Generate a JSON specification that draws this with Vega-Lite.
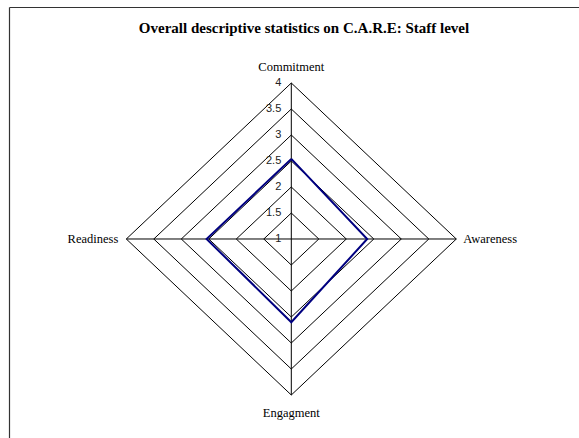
{
  "$schema": "https://vega.github.io/schema/vega-lite/v6.json",
  "autosize": {"type": "none"},
  "padding": {"left": 9, "top": 7, "right": 0, "bottom": 0},
  "width": 570,
  "height": 431,
  "background": "white",
  "config": {"view": {"stroke": null}},
  "title": {
    "text": "Overall descriptive statistics on C.A.R.E: Staff level",
    "font": "Liberation Serif",
    "fontSize": 15,
    "fontWeight": "bold",
    "color": "black",
    "anchor": "middle",
    "frame": "group",
    "baseline": "middle",
    "offset": -36,
    "dx": 10
  },
  "datasets": {
    "scores": [
      {"axis": "Commitment", "i": 0, "value": 2.54},
      {"axis": "Awareness", "i": 1, "value": 2.38},
      {"axis": "Engagment", "i": 2, "value": 2.6},
      {"axis": "Readiness", "i": 3, "value": 2.54},
      {"axis": "Commitment", "i": 4, "value": 2.54}
    ],
    "rings": [
      {"level": 1.5, "i": [0, 1, 2, 3, 4]},
      {"level": 2, "i": [0, 1, 2, 3, 4]},
      {"level": 2.5, "i": [0, 1, 2, 3, 4]},
      {"level": 3, "i": [0, 1, 2, 3, 4]},
      {"level": 3.5, "i": [0, 1, 2, 3, 4]},
      {"level": 4, "i": [0, 1, 2, 3, 4]}
    ],
    "axes": [
      {"axis": "Commitment", "i": 0},
      {"axis": "Awareness", "i": 1},
      {"axis": "Engagment", "i": 2},
      {"axis": "Readiness", "i": 3}
    ],
    "ticks": [
      {"label": "1", "value": 1},
      {"label": "1.5", "value": 1.5},
      {"label": "2", "value": 2},
      {"label": "2.5", "value": 2.5},
      {"label": "3", "value": 3},
      {"label": "3.5", "value": 3.5},
      {"label": "4", "value": 4}
    ]
  },
  "encoding": {
    "x": {
      "field": "x",
      "type": "quantitative",
      "scale": {"domain": [-5.1327, 5.2309], "nice": false, "zero": false},
      "axis": {"orient": "top", "domain": true, "domainColor": "#333", "domainWidth": 1.2, "ticks": false, "labels": false, "grid": false, "title": null}
    },
    "y": {
      "field": "y",
      "type": "quantitative",
      "scale": {"domain": [-3.8269, 4.4615], "nice": false, "zero": false},
      "axis": {"orient": "left", "domain": true, "domainColor": "#333", "domainWidth": 1.2, "ticks": false, "labels": false, "grid": false, "title": null}
    }
  },
  "layer": [
    {
      "data": {"name": "rings"},
      "transform": [
        {"flatten": ["i"]},
        {"calculate": "sin(datum.i * PI / 2) * (datum.level - 1)", "as": "x"},
        {"calculate": "cos(datum.i * PI / 2) * (datum.level - 1)", "as": "y"}
      ],
      "mark": {"type": "line", "color": "black", "strokeWidth": 1},
      "encoding": {
        "detail": {"field": "level", "type": "nominal"},
        "order": {"field": "i", "type": "quantitative"}
      }
    },
    {
      "data": {"name": "axes"},
      "transform": [
        {"calculate": "sin(datum.i * PI / 2) * 3", "as": "x"},
        {"calculate": "cos(datum.i * PI / 2) * 3", "as": "y"}
      ],
      "mark": {"type": "rule", "color": "black", "strokeWidth": 1},
      "encoding": {
        "x2": {"datum": 0},
        "y2": {"datum": 0}
      }
    },
    {
      "data": {"name": "scores"},
      "transform": [
        {"calculate": "sin(datum.i * PI / 2) * (datum.value - 1)", "as": "x"},
        {"calculate": "cos(datum.i * PI / 2) * (datum.value - 1)", "as": "y"}
      ],
      "mark": {"type": "line", "color": "#000080", "strokeWidth": 2},
      "encoding": {
        "order": {"field": "i", "type": "quantitative"}
      }
    },
    {
      "data": {"name": "ticks"},
      "transform": [
        {"calculate": "0", "as": "x"},
        {"calculate": "datum.value - 1", "as": "y"}
      ],
      "mark": {"type": "text", "align": "right", "baseline": "middle", "dx": -10, "font": "Liberation Sans", "fontSize": 11, "color": "#222"},
      "encoding": {"text": {"field": "label", "type": "nominal"}}
    },
    {
      "data": {"name": "axes"},
      "transform": [
        {"filter": "datum.axis === 'Commitment'"},
        {"calculate": "sin(datum.i * PI / 2) * 3", "as": "x"},
        {"calculate": "cos(datum.i * PI / 2) * 3", "as": "y"}
      ],
      "mark": {"type": "text", "align": "center", "baseline": "middle", "dy": -16, "font": "Liberation Serif", "fontSize": 12.5, "color": "black"},
      "encoding": {"text": {"field": "axis", "type": "nominal"}}
    },
    {
      "data": {"name": "axes"},
      "transform": [
        {"filter": "datum.axis === 'Awareness'"},
        {"calculate": "sin(datum.i * PI / 2) * 3", "as": "x"},
        {"calculate": "cos(datum.i * PI / 2) * 3", "as": "y"}
      ],
      "mark": {"type": "text", "align": "left", "baseline": "middle", "dx": 7, "font": "Liberation Serif", "fontSize": 12.5, "color": "black"},
      "encoding": {"text": {"field": "axis", "type": "nominal"}}
    },
    {
      "data": {"name": "axes"},
      "transform": [
        {"filter": "datum.axis === 'Engagment'"},
        {"calculate": "sin(datum.i * PI / 2) * 3", "as": "x"},
        {"calculate": "cos(datum.i * PI / 2) * 3", "as": "y"}
      ],
      "mark": {"type": "text", "align": "center", "baseline": "middle", "dy": 18, "font": "Liberation Serif", "fontSize": 12.5, "color": "black"},
      "encoding": {"text": {"field": "axis", "type": "nominal"}}
    },
    {
      "data": {"name": "axes"},
      "transform": [
        {"filter": "datum.axis === 'Readiness'"},
        {"calculate": "sin(datum.i * PI / 2) * 3", "as": "x"},
        {"calculate": "cos(datum.i * PI / 2) * 3", "as": "y"}
      ],
      "mark": {"type": "text", "align": "right", "baseline": "middle", "dx": -8, "font": "Liberation Serif", "fontSize": 12.5, "color": "black"},
      "encoding": {"text": {"field": "axis", "type": "nominal"}}
    }
  ]
}
